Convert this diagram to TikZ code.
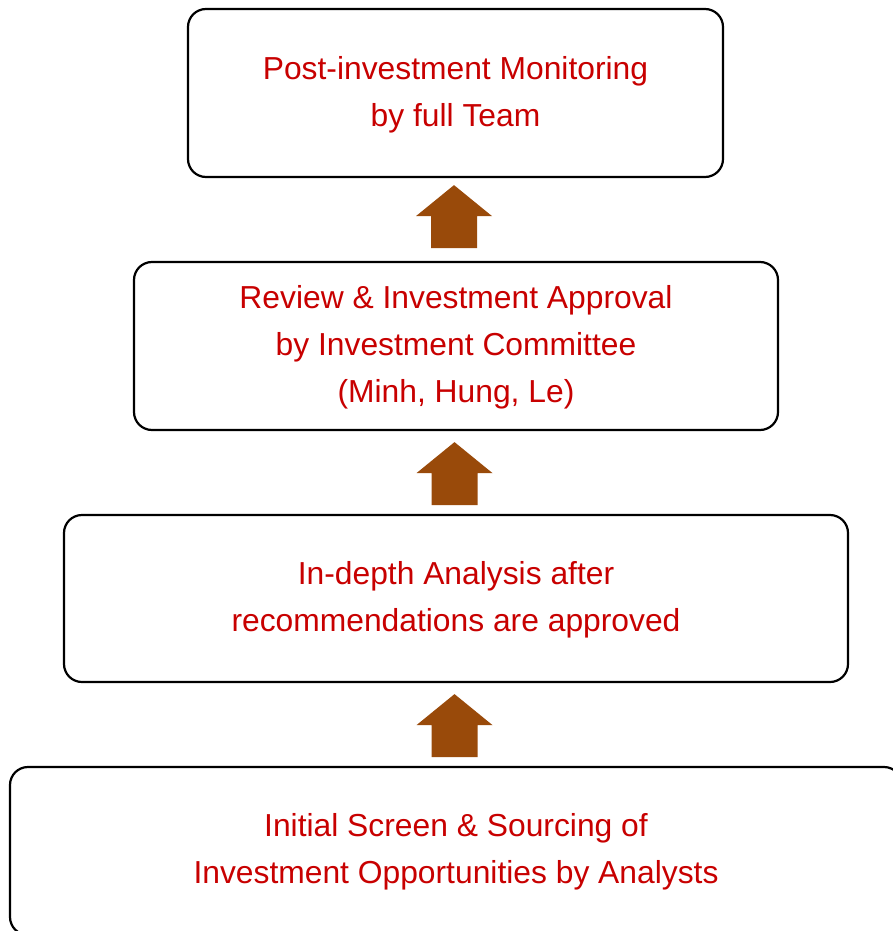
\documentclass[tikz,border=0pt]{standalone}
\usepackage{fontspec}
\setmainfont{Liberation Sans}
\definecolor{txtred}{RGB}{200,0,0}
\definecolor{arrbrown}{RGB}{153,74,10}
\begin{document}
\begin{tikzpicture}[x=1pt,y=-1pt,
  stagebox/.style={draw=black, line width=2.2pt, rounded corners=18pt, fill=white, inner sep=0pt},
  stagetext/.style={text=txtred, align=center, font=\fontsize{31.8}{47}\selectfont, inner sep=0pt},
  uparrow/.style={fill=arrbrown, draw=none}]
\useasboundingbox (0,0) rectangle (893,931);
\begin{scope}
\clip (0,0) rectangle (893,931);
\node[stagebox, minimum width=535pt, minimum height=168pt] (s4) at (455.5,93) {};
\node[stagebox, minimum width=644pt, minimum height=168pt] (s3) at (456,346) {};
\node[stagebox, minimum width=784pt, minimum height=167pt] (s2) at (456,598.5) {};
\node[stagebox, minimum width=892pt, minimum height=168pt] (s1) at (456,851) {};
\end{scope}
\node[stagetext] (t4) at ([yshift=-2pt]s4.center) {Post-investment Monitoring\\by full Team};
\node[stagetext] (t3) at ([yshift=-1pt]s3.center) {Review \& Investment Approval\\by Investment Committee\\(Minh, Hung, Le)};
\node[stagetext] (t2) at ([yshift=-1pt]s2.center) {In-depth Analysis after\\recommendations are approved};
\node[stagetext] (t1) at ([yshift=-1pt]s1.center) {Initial Screen \& Sourcing of\\Investment Opportunities by Analysts};
% block arrows between boxes
\foreach \hi/\gap in {s4/7, s3/11, s2/11}{
  \path (\hi.south) ++(-1.5,\gap) coordinate (tip);
  \fill[uparrow] (tip) -- ++(38,31) -- ++(-15,0) -- ++(0,32) -- ++(-46,0) -- ++(0,-32) -- ++(-15,0) -- cycle;
}
\end{tikzpicture}
\end{document}
